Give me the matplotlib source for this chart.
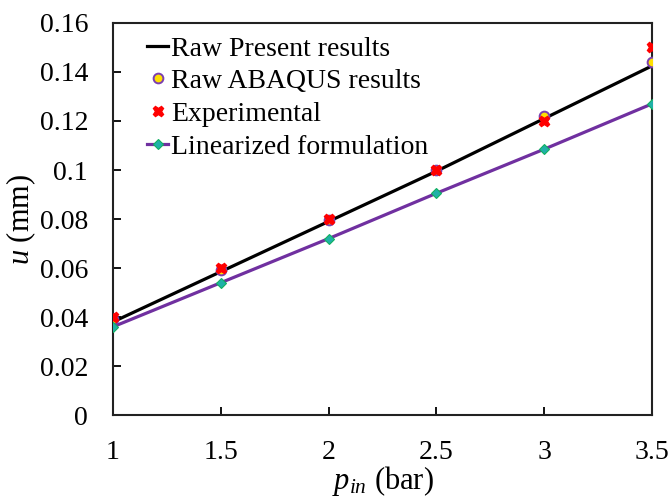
import matplotlib
matplotlib.use("Agg")
import matplotlib.pyplot as plt
import numpy as np

# donnees
p_in = [1, 1.5, 2, 2.5, 3, 3.5]
raw_present = [0.038, 0.0585, 0.079, 0.0995, 0.121, 0.1425]
raw_abaqus = [0.039, 0.059, 0.0795, 0.1, 0.122, 0.144]
experimental = [0.04, 0.06, 0.08, 0.1, 0.12, 0.15]
linearized = [0.036, 0.054, 0.072, 0.0905, 0.1085, 0.127]

xticks = [1, 1.5, 2, 2.5, 3, 3.5]
xticklabels = ["1", "1.5", "2", "2.5", "3", "3.5"]
yticks = [0, 0.02, 0.04, 0.06, 0.08, 0.1, 0.12, 0.14, 0.16]
yticklabels = ["0", "0.02", "0.04", "0.06", "0.08", "0.1", "0.12", "0.14", "0.16"]

plt.rcParams['font.family'] = ['Liberation Serif', 'DejaVu Serif']
plt.rcParams['mathtext.fontset'] = 'custom'
plt.rcParams['mathtext.rm'] = 'Liberation Serif'
plt.rcParams['mathtext.it'] = 'Liberation Serif:italic'

fig = plt.figure(figsize=(6.71, 4.98), dpi=100)
# axes: x 113..652 px, y 23..415 px
ax = fig.add_axes([113/671, 1-415/498, 539/671, 392/498])

ax.plot(p_in, raw_present, color="black", lw=2.3, label="Raw Present results", zorder=2)
ax.plot(p_in, raw_abaqus, ls="none", marker="o", ms=7, mfc="#ffe000", mec="#7b3fb0",
        mew=1.4, label="Raw ABAQUS results", zorder=3)
ax.plot(p_in, experimental, ls="none", marker="X", ms=7.5, color="red", mec="red",
        label="Experimental", zorder=4)
ax.plot(p_in, linearized, color="#7030a0", lw=2.3, marker="D", ms=5.5, mfc="#20b0a8",
        mec="#10b060", mew=0.8, label="Linearized formulation", zorder=3)

ax.set_xlim(1, 3.5)
ax.set_ylim(0, 0.16)
ax.set_xticks(xticks)
ax.set_xticklabels(xticklabels)
ax.set_yticks(yticks)
ax.set_yticklabels(yticklabels)
ax.tick_params(direction="in", length=6, width=1.3, labelsize=20)
ax.tick_params(axis="y", pad=18)
ax.tick_params(axis="x", pad=18)
for s in ax.spines.values():
    s.set_linewidth(1.5)
    s.set_color("#222222")

ax.set_xlabel("$p_{in}$ (bar)", fontsize=22, labelpad=-1)
ax.set_ylabel("$u$ (mm)", fontsize=22, labelpad=1)

ax.legend(loc="upper left", frameon=False, fontsize=20, handlelength=0.75,
          handletextpad=0.1, labelspacing=0.26, borderaxespad=0.0,
          bbox_to_anchor=(0.043, 0.995))

fig.savefig("out.png", dpi=100)
